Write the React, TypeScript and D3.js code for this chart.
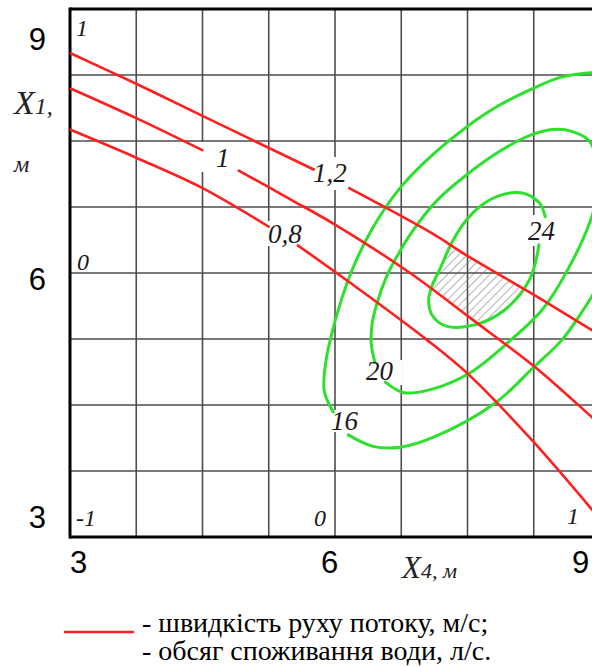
import React from "react"
import * as d3 from "d3"

const W = 592
const H = 667

// axis ticks (metres) and the coded factor levels written in the corners
const X4_TICKS = [3, 6, 9]
const X1_TICKS = [3, 6, 9]
const GRID_STEP = 0.75

// red isolines – speed of flow, m/s  [X4, X1]; each is split around its label
const speed08A = [[3.0, 7.63], [3.75, 7.31], [4.49, 6.97], [5.26, 6.52]]
const speed08B = [[5.57, 6.32], [6.28, 5.81], [7.04, 5.24], [7.52, 4.84], [8.23, 4.1], [8.91, 3.31], [9.0, 3.2]]
const speed10A = [[3.0, 8.1], [3.75, 7.76], [4.51, 7.39]]
const speed10B = [[4.9, 7.17], [5.49, 6.84], [6.0, 6.55], [6.85, 6.0], [7.53, 5.49], [8.29, 4.91], [8.91, 4.36], [9.0, 4.28]]
const speed12A = [[3.0, 8.5], [3.75, 8.15], [4.47, 7.8], [5.77, 7.17]]
const speed12B = [[6.15, 6.97], [7.1, 6.45], [7.49, 6.2], [8.29, 5.73], [8.91, 5.35], [9.0, 5.3]]

// green isolines – water consumption, l/s
const flow16A = [[9.0, 8.28], [8.83, 8.27], [8.54, 8.22], [8.25, 8.1], [7.85, 7.9], [7.49, 7.66], [7.1, 7.34], [6.74, 6.97], [6.42, 6.5], [6.18, 6.0], [6.0, 5.45], [5.89, 4.95], [5.88, 4.65], [5.98, 4.42]]
const flow16B = [[6.15, 4.16], [6.43, 4.03], [6.74, 4.02], [7.13, 4.14], [7.81, 4.52], [8.26, 4.94], [8.57, 5.24], [8.81, 5.58], [9.0, 5.89]]
const flow20 = [[6.45, 4.99], [6.41, 5.2], [6.42, 5.42], [6.48, 5.67], [6.58, 5.95], [6.73, 6.24], [6.93, 6.55], [7.17, 6.84], [7.47, 7.1], [7.86, 7.38], [8.2, 7.56], [8.46, 7.63], [8.68, 7.61], [8.88, 7.5], [8.97, 7.25], [8.98, 6.94], [8.9, 6.62], [8.7, 6.16], [8.36, 5.6], [7.97, 5.22], [7.52, 4.86], [7.1, 4.68], [6.78, 4.64], [6.57, 4.76]]
const flow24 = [[8.31, 6.32], [8.2, 5.92], [7.92, 5.58], [7.58, 5.41], [7.25, 5.4], [7.1, 5.52], [7.06, 5.69], [7.1, 5.86], [7.19, 6.05], [7.32, 6.34], [7.47, 6.58], [7.66, 6.77], [7.86, 6.88], [8.12, 6.91], [8.31, 6.8], [8.38, 6.64]]

const RED = "#ff1f1f"
const GREEN = "#2de02d"
const SERIF = "Times New Roman, Times, Liberation Serif, DejaVu Serif, serif"
const SANS = "Arial, Liberation Sans, sans-serif"

export default function App() {
  const x = d3.scaleLinear().domain([3, 9]).range([70, 600])
  const y = d3.scaleLinear().domain([3, 9]).range([537, 9])

  const line = d3
    .line<number[]>()
    .x(d => x(d[0]))
    .y(d => y(d[1]))
    .curve(d3.curveCatmullRom.alpha(0.5))
  const closed = d3
    .line<number[]>()
    .x(d => x(d[0]))
    .y(d => y(d[1]))
    .curve(d3.curveCatmullRomClosed.alpha(0.5))

  const grid = d3.range(3 + GRID_STEP, 9 - 1e-6, GRID_STEP)

  // area between the 1 and 1,2 isolines, clipped to the 24 l/s ellipse
  const hatch =
    line(speed10B) + "L" + (line(speed12B.slice().reverse()) || "").slice(1) + "Z"

  // white boxes behind the isoline labels (they cut the grid)
  const boxes = [
    [200, 142, 42, 30],
    [305, 157, 51, 33],
    [262, 221, 43, 25],
    [522, 215, 43, 31],
    [360, 360, 42, 25],
    [325, 410, 40, 22]
  ]

  return (
    <div style={{ position: "absolute", left: 0, top: 0 }}>
      <svg width={W} height={H} style={{ display: "block", background: "#fff" }}>
        <defs>
          <pattern id="hatch" patternUnits="userSpaceOnUse" width={6} height={6} patternTransform="rotate(45)">
            <line x1={0} y1={0} x2={0} y2={6} stroke="#666" strokeWidth={1} />
          </pattern>
          <clipPath id="inner">
            <path d={closed(flow24) || ""} />
          </clipPath>
        </defs>

        {/* grid */}
        <g stroke="#4d4d4d" strokeWidth={1.6}>
          {grid.map(v => (
            <line key={"v" + v} x1={x(v)} x2={x(v)} y1={y(9)} y2={y(3)} />
          ))}
          {grid.map(v => (
            <line key={"h" + v} x1={x(3)} x2={x(9)} y1={y(v)} y2={y(v)} />
          ))}
        </g>
        <g stroke="#000" strokeWidth={3}>
          <line x1={x(3)} x2={x(9)} y1={y(9)} y2={y(9)} />
          <line x1={x(3)} x2={x(9)} y1={y(3)} y2={y(3)} />
          <line x1={x(3)} x2={x(3)} y1={y(9) - 1.5} y2={y(3) + 1.5} />
          <line x1={x(9)} x2={x(9)} y1={y(9)} y2={y(3)} />
        </g>

        {boxes.map((b, i) => (
          <rect key={i} x={b[0]} y={b[1]} width={b[2]} height={b[3]} fill="#fff" />
        ))}

        <path d={hatch} fill="url(#hatch)" clipPath="url(#inner)" />

        {/* green isolines */}
        <g fill="none" stroke={GREEN} strokeWidth={3} strokeLinecap="round">
          <path d={line(flow16A) || ""} />
          <path d={line(flow16B) || ""} />
          <path d={line(flow20) || ""} />
          <path d={line(flow24) || ""} />
        </g>

        {/* red isolines */}
        <g fill="none" stroke={RED} strokeWidth={2.6}>
          {[speed08A, speed08B, speed10A, speed10B, speed12A, speed12B].map((s, i) => (
            <path key={i} d={line(s) || ""} />
          ))}
        </g>

        {/* isoline labels */}
        <g fontFamily={SERIF} fontStyle="italic" fill="#1a1a1a" fontSize={27}>
          <text x={216} y={167}>1</text>
          <text x={313} y={182}>1,2</text>
          <text x={268} y={243}>0,8</text>
          <text x={528} y={240}>24</text>
          <text x={366} y={380}>20</text>
          <text x={331} y={430}>16</text>
        </g>

        {/* coded levels */}
        <g fontFamily={SERIF} fontStyle="italic" fill="#1a1a1a" fontSize={24}>
          <text x={76} y={36}>1</text>
          <text x={77} y={270}>0</text>
          <text x={76} y={526}>-1</text>
          <text x={314} y={526}>0</text>
          <text x={567} y={524}>1</text>
        </g>

        {/* tick labels */}
        <g fontFamily={SANS} fontSize={31} fill="#000">
          {X1_TICKS.map((t, i) => (
            <text key={"y" + t} x={46} y={[528, 290, 50][i]} textAnchor="end">{t}</text>
          ))}
          {X4_TICKS.map((t, i) => (
            <text key={"x" + t} x={[70, 321, 572][i]} y={573}>{t}</text>
          ))}
        </g>

        {/* axis titles */}
        <g fontFamily={SERIF} fontStyle="italic" fill="#222">
          <text x={14} y={114}>
            <tspan fontSize={34}>X</tspan>
            <tspan fontSize={24}>1,</tspan>
          </text>
          <text x={14} y={172} fontSize={24} fill="#223">м</text>
          <text x={402} y={578}>
            <tspan fontSize={31}>X</tspan>
            <tspan fontSize={22}>4, м</tspan>
          </text>
        </g>

        {/* legend */}
        <line x1={64} x2={134} y1={632} y2={632} stroke={RED} strokeWidth={2.5} />
        <g fill="#000" fontFamily={SERIF} fontSize={28}>
          <text x={142} y={632}>- швидкість руху потоку, м/с;</text>
          <text x={142} y={660}>- обсяг споживання води, л/с.</text>
        </g>
      </svg>
    </div>
  )
}
